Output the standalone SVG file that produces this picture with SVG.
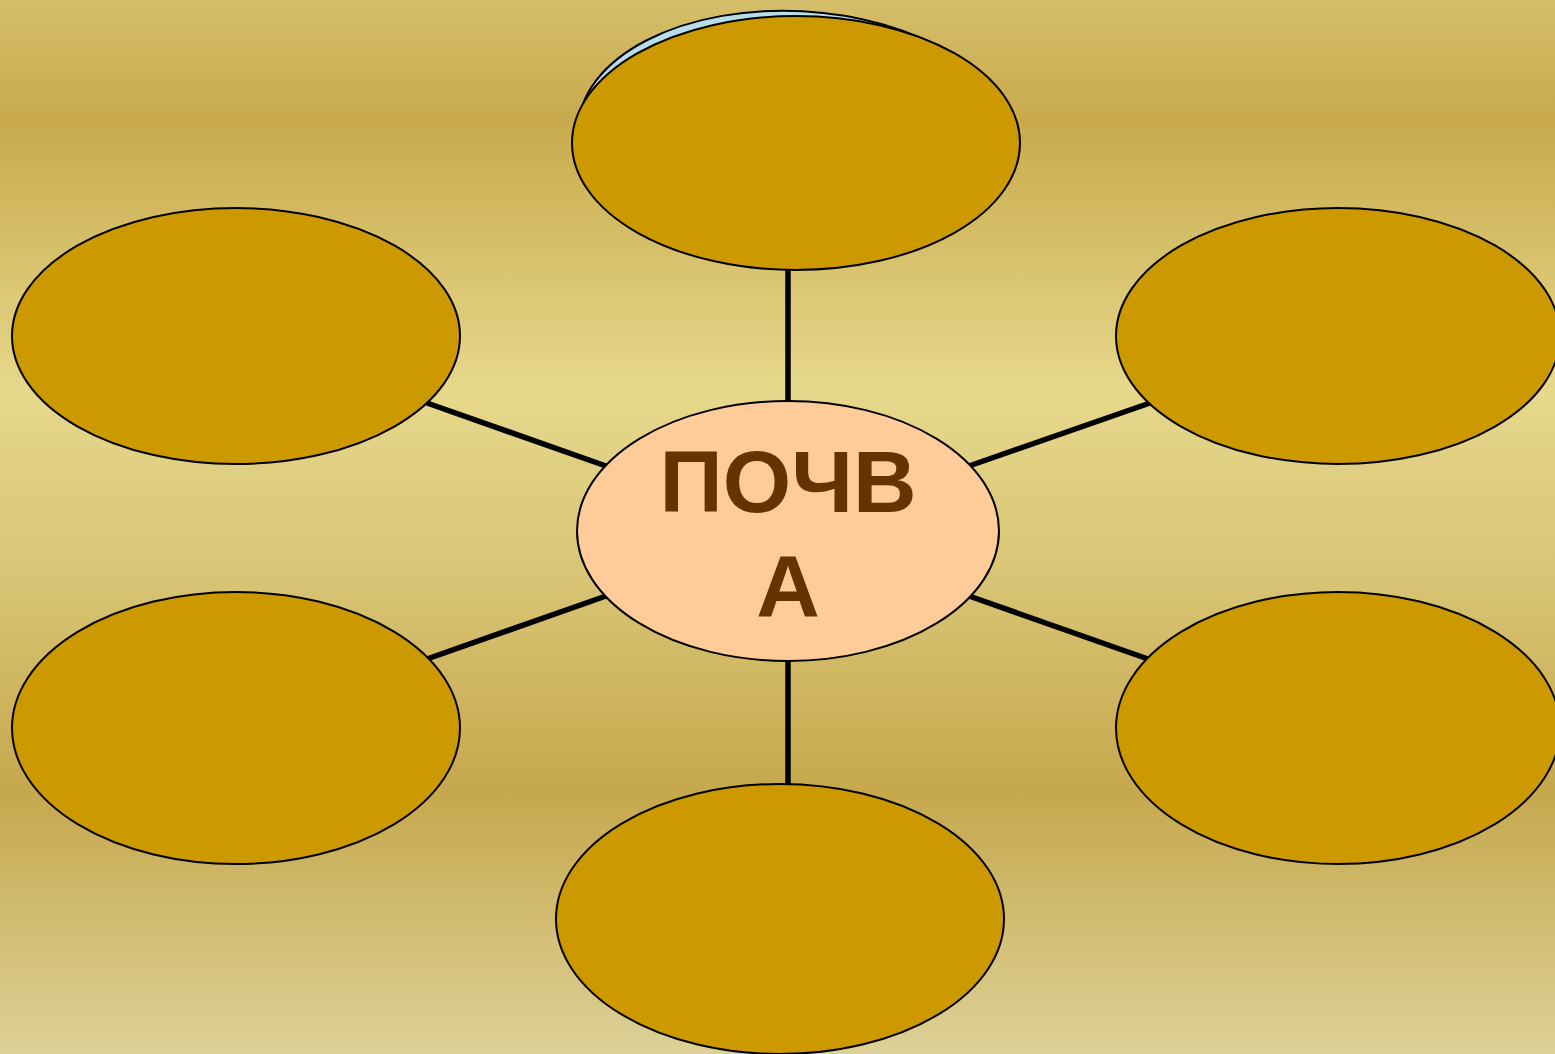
<svg xmlns="http://www.w3.org/2000/svg" width="1555" height="1054" viewBox="0 0 1555 1054">
<defs>
<linearGradient id="bg" x1="0" y1="0" x2="0" y2="1">
<stop offset="0" stop-color="#d5be6a"/>
<stop offset="0.115" stop-color="#c8aa4c"/>
<stop offset="0.37" stop-color="#e7d88c"/>
<stop offset="0.55" stop-color="#d8c474"/>
<stop offset="0.75" stop-color="#c6a84d"/>
<stop offset="1" stop-color="#ddd197"/>
</linearGradient>
<style>
.n{fill:#cc9900;stroke:#000;stroke-width:2}
.c{stroke:#000;stroke-width:5.5;fill:none}
.t{font-family:"Liberation Sans",Arial,sans-serif;font-weight:bold;font-size:88px;fill:#663300;text-anchor:middle}
</style>
</defs>
<rect width="1555" height="1054" fill="url(#bg)"/>
<g id="connectors">
<line class="c" x1="788" y1="270" x2="788" y2="402"/>
<line class="c" x1="788" y1="660" x2="788" y2="785"/>
<line class="c" x1="427" y1="403" x2="606" y2="466"/>
<line class="c" x1="969" y1="466" x2="1150" y2="403"/>
<line class="c" x1="427" y1="659" x2="606" y2="596"/>
<line class="c" x1="969" y1="596" x2="1148" y2="659"/>
</g>
<g id="node-top">
<ellipse cx="796" cy="138" rx="218" ry="127" transform="rotate(3 796 138)" fill="#b8dce8" stroke="#000" stroke-width="2"/>
<ellipse class="n" cx="796" cy="143" rx="224" ry="127"/>
</g>
<g id="node-left-top"><ellipse class="n" cx="236" cy="336" rx="224" ry="128"/></g>
<g id="node-right-top"><ellipse class="n" cx="1338" cy="336" rx="222" ry="128"/></g>
<g id="node-left-bottom"><ellipse class="n" cx="236" cy="728" rx="224" ry="136"/></g>
<g id="node-right-bottom"><ellipse class="n" cx="1338" cy="728" rx="222" ry="136"/></g>
<g id="node-bottom"><ellipse class="n" cx="780" cy="919" rx="224" ry="135"/></g>
<g id="node-center">
<ellipse cx="788" cy="531" rx="211" ry="130" fill="#ffcc99" stroke="#000" stroke-width="2"/>
<text class="t" x="788" y="512">ПОЧВ</text>
<text class="t" x="788" y="616">А</text>
</g>
</svg>
